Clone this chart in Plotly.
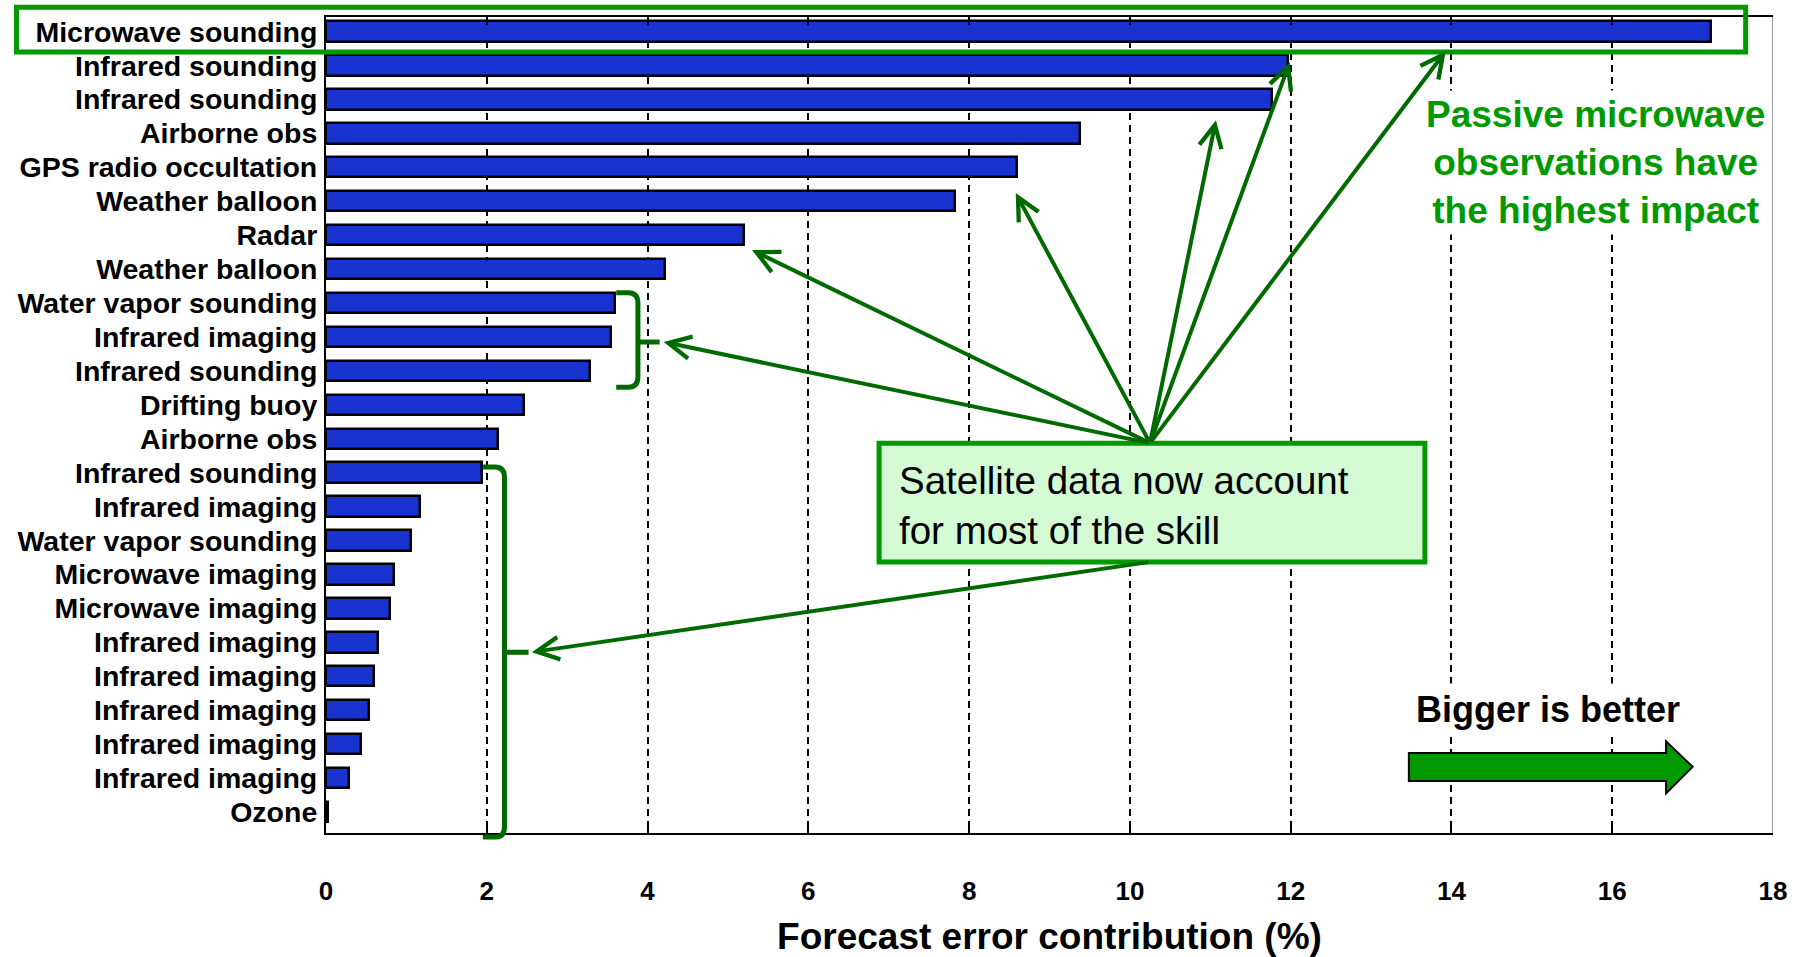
import plotly.graph_objects as go

# ---------------- data ----------------
labels = ["Microwave sounding", "Infrared sounding", "Infrared sounding", "Airborne obs",
          "GPS radio occultation", "Weather balloon", "Radar", "Weather balloon",
          "Water vapor sounding", "Infrared imaging", "Infrared sounding", "Drifting buoy",
          "Airborne obs", "Infrared sounding", "Infrared imaging", "Water vapor sounding",
          "Microwave imaging", "Microwave imaging", "Infrared imaging", "Infrared imaging",
          "Infrared imaging", "Infrared imaging", "Infrared imaging", "Ozone"]
values = [17.23, 11.97, 11.77, 9.38, 8.60, 7.83, 5.20, 4.22, 3.60, 3.55, 3.29, 2.46,
          2.14, 1.94, 1.17, 1.06, 0.85, 0.80, 0.65, 0.60, 0.54, 0.44, 0.29, 0.02]
x_ticks = [0, 2, 4, 6, 8, 10, 12, 14, 16, 18]
x_title = "Forecast error contribution (%)"

n = len(labels)
positions = [n - 1 - i for i in range(n)]

XLO, XHI = 0, 18
YLO, YHI = -0.62, 23.43

FONT = "Liberation Sans, Arial, Helvetica, sans-serif"
BRIGHT_GREEN = "#009a00"
DARK_GREEN = "#006a00"


def px(x):
    return (x - XLO) / (XHI - XLO)


def py(y):
    return (y - YLO) / (YHI - YLO)


fig = go.Figure()
fig.add_trace(go.Bar(
    x=values, y=positions, orientation="h", width=0.6,
    marker=dict(color="#1833cf", line=dict(color="black", width=2.5)),
    hoverinfo="x+text", text=labels, textposition="none",
))

shapes = []
annotations = []

# highlight rectangle around the top row (paper coords so it is not clipped)
shapes.append(dict(type="rect", xref="paper", yref="paper",
                   x0=px(-3.85), x1=px(17.66), y0=py(22.40), y1=py(23.72),
                   line=dict(color=BRIGHT_GREEN, width=5), fillcolor="rgba(0,0,0,0)"))


def bracket(xl, xv, xn, yt, yb, ym):
    rx, ry = 0.12, 0.3
    path = (f"M{px(xl)},{py(yt)} L{px(xv - rx)},{py(yt)} Q{px(xv)},{py(yt)} {px(xv)},{py(yt - ry)} "
            f"L{px(xv)},{py(yb + ry)} Q{px(xv)},{py(yb)} {px(xv - rx)},{py(yb)} L{px(xl)},{py(yb)} "
            f"M{px(xv)},{py(ym)} L{px(xn)},{py(ym)}")
    return dict(type="path", xref="paper", yref="paper", path=path,
                line=dict(color=DARK_GREEN, width=5))


shapes.append(bracket(3.61, 3.88, 4.15, 15.30, 12.52, 13.85))
shapes.append(bracket(1.95, 2.22, 2.52, 10.17, -0.74, 4.71))

# satellite box
shapes.append(dict(type="rect", xref="x", yref="y", x0=6.88, x1=13.67, y0=7.37, y1=10.87,
                   line=dict(color=BRIGHT_GREEN, width=5), fillcolor="#d3fad3"))

# right border (light grey)
shapes.append(dict(type="line", xref="x", yref="paper", x0=18, x1=18, y0=0, y1=1,
                   line=dict(color="#9a9a9a", width=2)))

# "bigger is better" arrow
shapes.append(dict(type="path", xref="x", yref="y",
                   path="M13.47,1.74 L16.67,1.74 L16.67,2.08 L17.0,1.33 L16.67,0.55 L16.67,0.91 L13.47,0.91 Z",
                   fillcolor="#009900", line=dict(color="black", width=2)))

# arrows from the satellite box
hub_top = (10.25, 10.87)
hub_bot = (10.25, 7.37)
tips_top = [(13.93, 22.43), (11.99, 22.10), (11.07, 20.39), (8.58, 18.24), (5.30, 16.56), (4.20, 13.85)]
for tx, ty in tips_top:
    annotations.append(dict(x=tx, y=ty, ax=hub_top[0], ay=hub_top[1], xref="x", yref="y",
                            axref="x", ayref="y", text="", showarrow=True, arrowhead=5,
                            arrowsize=1.1, arrowwidth=4, arrowcolor=DARK_GREEN))
annotations.append(dict(x=2.56, y=4.71, ax=hub_bot[0], ay=hub_bot[1], xref="x", yref="y",
                        axref="x", ayref="y", text="", showarrow=True, arrowhead=5,
                        arrowsize=1.1, arrowwidth=4, arrowcolor=DARK_GREEN))

annotations.append(dict(x=15.79, y=19.13, xref="x", yref="y", showarrow=False,
                        text="Passive microwave<br>observations have<br>the highest impact",
                        font=dict(family=FONT, size=37, color=BRIGHT_GREEN, weight="bold"),
                        bgcolor="white", borderpad=3))
annotations.append(dict(x=7.10, y=9.02, xref="x", yref="y", showarrow=False, xanchor="left",
                        align="left",
                        text="Satellite data now account<br>for most of the skill",
                        font=dict(family=FONT, size=38.5, color="black")))
annotations.append(dict(x=15.20, y=3.03, xref="x", yref="y", showarrow=False,
                        text="Bigger is better",
                        font=dict(family=FONT, size=36, color="black", weight="bold"),
                        bgcolor="white", borderpad=5))

fig.update_layout(
    width=1802, height=957,
    margin=dict(l=326, r=29, t=17, b=124, pad=0, autoexpand=False),
    plot_bgcolor="white", paper_bgcolor="white",
    showlegend=False, bargap=0,
    shapes=shapes, annotations=annotations,
    font=dict(family=FONT, color="black"),
)
fig.update_xaxes(
    range=[XLO, XHI], tickvals=x_ticks, ticktext=[str(t) for t in x_ticks],
    showgrid=True, gridcolor="black", gridwidth=1.5, griddash="7px,5px",
    zeroline=False, showline=True, linecolor="black", linewidth=2, mirror="ticks",
    ticks="inside", ticklen=8, tickcolor="black", tickwidth=1.5,
    tickfont=dict(family=FONT, size=26, color="black", weight="bold"),
    ticklabelstandoff=34, automargin=False,
    title=dict(text=x_title, font=dict(family=FONT, size=37, color="black", weight="bold"),
               standoff=29),
)
fig.update_yaxes(
    range=[YLO, YHI], tickvals=positions, ticktext=labels,
    showgrid=False, zeroline=False, showline=True, linecolor="black", linewidth=2,
    ticks="", ticklabelstandoff=1, automargin=False,
    tickfont=dict(family=FONT, size=28.5, color="black", weight="bold"),
)

fig.write_html("out.html", config={"displayModeBar": False},
               post_script="document.body.style.margin='0';")
